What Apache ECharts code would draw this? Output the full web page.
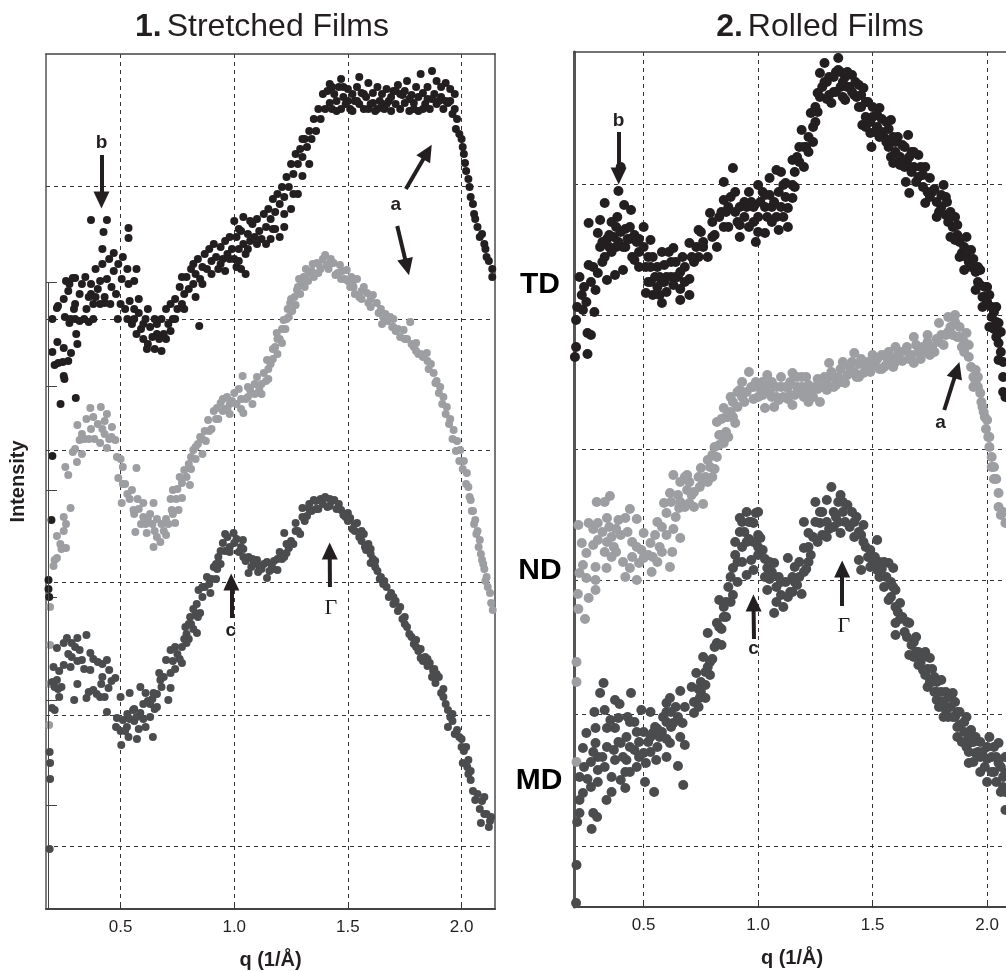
<!DOCTYPE html>
<html><head><meta charset="utf-8"><style>html,body{margin:0;padding:0;background:#fff}#c{width:1006px;height:971px}</style>
<script src="https://cdn.jsdelivr.net/npm/echarts@6/dist/echarts.min.js"></script></head><body><div id="c"></div>
<script>
const xTicks=[0.5,1.0,1.5,2.0];
const gridLevelsA=[63,194,327,459,590,723];
const gridLevelsB=[61,193,327,458,592,723];
const innerTicksA=[104,209,312,419,523,627];
const stretchedTD=[[.183,329],[.183,320],[.186,312],[.196,389],[.2,453],[.236,505],[.303,511],[.25,533],[.253,530],[.21,544],[.226,546],[.246,547],[.27,548],[.2,557],[.222,567],[.25,561],[.282,556],[.31,565],[.305,575],[.2,590],[.225,603],[.255,592],[.275,586],[.3,590],[.295,600],[.32,588],[.34,590],[.36,587],[.38,590],[.22,601],[.25,610],[.27,618],[.28,590],[.3,605],[.32,615],[.35,600],[.37,615],[.39,612],[.41,605],[.43,606],[.455,605],[.488,590],[.26,628],[.275,625],[.29,631],[.3,631],[.33,625],[.345,632],[.37,689],[.44,689],[.425,677],[.535,681],[.535,671],[.36,612],[.37,625],[.38,605],[.39,640],[.4,620],[.41,628],[.42,645],[.43,612],[.44,630],[.45,650],[.46,622],[.47,638],[.48,615],[.49,645],[.5,605],[.505,630],[.42,660],[.47,656],[.51,652],[.53,640],[.535,625],[.57,640],[.56,628],[.52,600],[.53,590],[.54,608],[.55,585],[.56,600],[.57,575],[.58,596],[.59,580],[.6,570],[.61,590],[.62,565],[.63,582],[.64,572],[.65,560],[.66,585],[.67,570],[.68,590],[.69,575],[.7,600],[.71,585],[.72,605],[.73,590],[.74,610],[.75,600],[.76,622],[.77,605],[.78,615],[.79,632],[.8,620],[.81,640],[.82,625],[.83,635],[.84,650],[.85,630],[.86,642],[.87,655],[.88,640],[.89,660],[.9,648],[.91,665],[.92,652],[.93,640],[.94,662],[.95,650],[.96,668],[.97,655],[.98,672],[.99,660],[1.0,650],[1.01,672],[1.02,660],[1.03,678],[1.04,665],[1.05,655],[1.06,675],[1.07,668],[1.08,685],[1.09,672],[1.1,690],[1.11,678],[1.12,670],[1.13,695],[1.14,682],[1.15,700],[1.16,690],[1.17,710],[1.18,697],[1.19,715],[1.2,705],[1.21,722],[1.22,712],[1.23,732],[1.24,722],[1.25,745],[1.26,735],[1.27,755],[1.28,745],[1.29,760],[1.3,752],[1.31,770],[1.32,762],[1.33,778],[1.34,770],[1.35,790],[1.36,778],[1.37,800],[1.38,790],[1.39,815],[1.4,800],[1.41,818],[1.42,806],[.72,578],[.77,632],[.83,612],[.846,583],[.96,638],[1.01,642],[1.03,640],[1.05,635],[1.0,688],[1.04,692],[1.07,688],[1.02,680],[1.16,670],[1.17,680],[1.2,672],[1.22,682],[1.25,700],[1.28,715],[1.3,733],[1.33,745],[1.42,825],[1.43,800],[1.44,815],[1.45,808],[1.46,822],[1.47,800],[1.47,830],[1.48,812],[1.49,805],[1.5,820],[1.51,800],[1.52,815],[1.53,808],[1.54,822],[1.55,805],[1.55,832],[1.56,816],[1.57,800],[1.58,812],[1.59,826],[1.6,805],[1.61,816],[1.62,798],[1.63,822],[1.64,808],[1.65,815],[1.66,800],[1.67,820],[1.68,808],[1.69,798],[1.7,818],[1.71,805],[1.72,824],[1.73,800],[1.74,814],[1.75,806],[1.76,828],[1.77,798],[1.78,814],[1.79,806],[1.8,822],[1.81,798],[1.82,835],[1.83,816],[1.84,805],[1.85,822],[1.86,800],[1.87,838],[1.88,815],[1.89,828],[1.9,808],[1.91,822],[1.92,800],[1.93,826],[1.94,806],[1.95,808],[1.96,795],[1.97,815],[1.98,790],[1.975,780],[1.99,775],[2.0,770],[2.005,762],[2.01,755],[2.015,746],[2.02,738],[2.03,730],[2.035,722],[2.04,712],[2.05,705],[2.055,695],[2.06,690],[2.07,682],[2.08,672],[2.09,675],[2.1,665],[2.105,660],[2.11,652],[2.12,648],[2.135,640],[2.135,632]];
const stretchedTDFill=[[1.43,822],[1.45,798],[1.48,822],[1.5,808],[1.52,798],[1.54,808],[1.57,815],[1.59,800],[1.61,806],[1.63,800],[1.65,805],[1.67,805],[1.69,812],[1.71,818],[1.73,815],[1.75,818],[1.77,810],[1.79,800],[1.81,812],[1.83,800],[1.85,810],[1.87,810],[1.89,805],[1.91,812],[1.93,808],[1.95,820],[1.97,800],[.616,560],[.68,558],[.65,590],[.6,585],[.56,590],[.58,610],[.62,600],[.66,575],[.7,570],[.74,590],[.78,600],[.82,645],[.86,625],[.9,635],[.94,645],[.98,650],[1.02,648],[1.06,660],[1.1,665],[1.14,665],[1.18,680],[1.22,695],[1.26,715],[1.3,770]];
const stretchedND=[[.186,184],[.188,225],[.19,264],[.19,302],[.21,349],[.22,351],[.205,343],[.22,373],[.235,365],[.25,392],[.26,361],[.28,401],[.26,385],[.25,378],[.24,360],[.27,434],[.257,442],[.308,447],[.29,457],[.31,484],[.32,469],[.34,470],[.3,460],[.33,455],[.35,490],[.367,501],[.413,502],[.38,492],[.44,495],[.462,482],[.477,469],[.36,470],[.385,470],[.41,466],[.44,461],[.42,480],[.4,485],[.45,470],[.37,480],[.43,488],[.33,475],[.43,475],[.46,472],[.484,452],[.51,442],[.57,441],[.49,431],[.55,419],[.505,406],[.557,399],[.6,406],[.645,406],[.565,377],[.615,376],[.645,362],[.675,367],[.7,374],[.74,386],[.725,399],[.755,399],[.77,411],[.805,424],[.73,419],[.77,426],[.52,425],[.54,410],[.575,410],[.6,392],[.62,390],[.64,385],[.66,390],[.68,385],[.7,390],[.72,410],[.75,420],[.5,450],[.51,425],[.53,415],[.56,395],[.58,400],[.59,385],[.61,385],[.63,395],[.65,378],[.66,372],[.69,378],[.71,385],[.73,395],[.745,410],[.76,432],[.78,439],[.79,432],[.8,445],[.81,452],[.82,459],[.83,450],[.84,465],[.85,472],[.86,455],[.87,478],[.875,468],[.885,489],[.9,480],[.91,498],[.924,501],[.93,490],[.94,506],[.95,510],[.96,500],[.968,512],[.97,500],[.98,495],[.99,508],[1.0,516],[1.01,505],[1.02,520],[1.03,510],[1.04,496],[1.037,533],[1.05,510],[1.06,522],[1.07,519],[1.08,505],[1.09,525],[1.1,532],[1.11,520],[1.12,515],[1.13,536],[1.14,528],[1.144,549],[1.15,530],[1.16,545],[1.17,550],[1.18,562],[1.187,576],[1.19,555],[1.2,570],[1.21,566],[1.217,589],[1.225,580],[1.235,600],[1.24,592],[1.246,606],[1.255,598],[1.265,612],[1.27,604],[1.276,619],[1.285,630],[1.29,615],[1.295,625],[1.305,632],[1.31,622],[1.315,640],[1.325,628],[1.33,636],[1.345,645],[1.35,632],[1.364,646],[1.37,636],[1.38,640],[1.39,650],[1.4,654],[1.405,644],[1.415,640],[1.425,650],[1.437,646],[1.445,634],[1.455,636],[1.465,644],[1.475,638],[1.485,630],[1.495,639],[1.5,628],[1.51,622],[1.515,632],[1.525,622],[1.53,615],[1.54,630],[1.55,612],[1.56,618],[1.57,622],[1.584,616],[1.59,606],[1.6,610],[1.61,614],[1.627,606],[1.635,596],[1.645,600],[1.655,592],[1.665,595],[1.675,588],[1.686,592],[1.695,582],[1.7,590],[1.71,578],[1.72,580],[1.73,572],[1.745,579],[1.76,570],[1.774,587],[1.78,565],[1.79,562],[1.8,566],[1.81,555],[1.82,555],[1.83,552],[1.847,556],[1.855,540],[1.865,545],[1.877,536],[1.885,526],[1.89,528],[1.9,516],[1.906,522],[1.915,505],[1.92,512],[1.93,495],[1.935,502],[1.945,485],[1.95,490],[1.96,470],[1.965,479],[1.975,458],[1.98,468],[1.99,448],[1.994,459],[2.005,440],[2.01,448],[2.02,425],[2.023,436],[2.03,422],[2.035,412],[2.04,409],[2.045,398],[2.05,398],[2.055,385],[2.06,389],[2.065,375],[2.07,378],[2.075,362],[2.08,369],[2.085,355],[2.09,349],[2.095,345],[2.1,340],[2.105,328],[2.11,332],[2.115,322],[2.125,316],[2.13,306],[2.137,299]];
const stretchedNDFill=[[.81,440],[.83,462],[.86,470],[.89,478],[.92,490],[.95,498],[.98,505],[1.03,500],[1.06,512],[1.09,515],[1.12,525],[1.15,540],[1.17,560],[1.19,570],[1.21,580],[1.23,590],[1.25,610],[1.28,622],[1.31,630],[1.34,638],[1.37,645],[1.42,645],[1.47,630],[1.52,625],[1.56,610],[1.6,602],[1.65,585],[1.7,582],[1.75,570],[1.8,558],[1.85,548]];
const stretchedMD=[[.188,157],[.19,146],[.19,130],[.188,60],[.198,201],[.21,199],[.23,212],[.296,209],[.31,225],[.2,227],[.22,229],[.24,222],[.205,242],[.25,244],[.22,261],[.264,271],[.31,271],[.35,274],[.25,266],[.285,266],[.32,259],[.285,252],[.28,242],[.33,249],[.367,256],[.367,239],[.4,247],[.44,249],[.45,239],[.477,231],[.447,221],[.36,217],[.38,219],[.41,212],[.35,211],[.44,197],[.395,215],[.27,255],[.3,262],[.34,240],[.31,248],[.38,250],[.42,245],[.42,232],[.46,228],[.21,222],[.225,220],[.23,238],[.415,225],[.43,212],[.5,212],[.54,216],[.587,222],[.484,191],[.48,182],[.51,189],[.528,182],[.503,164],[.535,172],[.572,170],[.642,172],[.555,199],[.587,196],[.63,192],[.61,216],[.645,216],[.66,202],[.71,209],[.675,229],[.67,236],[.72,221],[.5,178],[.52,178],[.54,190],[.56,188],[.57,192],[.6,190],[.6,205],[.62,208],[.63,205],[.65,200],[.68,222],[.69,232],[.7,249],[.72,259],[.74,262],[.77,246],[.79,266],[.72,236],[.74,240],[.76,250],[.73,248],[.75,255],[.77,262],[.785,282],[.79,275],[.8,270],[.806,292],[.836,276],[.82,280],[.81,285],[.843,319],[.835,305],[.85,296],[.84,292],[.86,312],[.87,322],[.88,332],[.895,316],[.9,330],[.91,342],[.925,340],[.92,330],[.93,352],[.94,345],[.95,366],[.96,358],[.97,372],[.98,362],[.997,376],[1.01,370],[1.038,369],[.98,357],[1.02,357],[1.03,362],[1.04,352],[1.05,348],[1.063,352],[1.063,336],[1.075,342],[1.085,345],[1.1,349],[1.105,337],[1.12,340],[1.13,345],[1.144,331],[1.144,347],[1.155,338],[1.165,343],[1.175,348],[1.19,339],[1.2,357],[1.21,350],[1.22,352],[1.23,356],[1.24,361],[1.25,368],[1.22,376],[1.26,365],[1.27,386],[1.28,378],[1.29,375],[1.3,401],[1.31,388],[1.32,393],[1.33,400],[1.34,398],[1.35,409],[1.36,400],[1.37,400],[1.38,410],[1.4,412],[1.41,402],[1.42,403],[1.43,408],[1.44,409],[1.45,400],[1.47,399],[1.48,394],[1.49,392],[1.5,396],[1.51,391],[1.52,380],[1.54,386],[1.53,378],[1.55,372],[1.56,378],[1.57,375],[1.575,362],[1.58,359],[1.59,365],[1.6,355],[1.6,346],[1.61,350],[1.62,342],[1.63,338],[1.64,330],[1.645,332],[1.655,325],[1.67,322],[1.68,312],[1.69,316],[1.7,305],[1.71,308],[1.72,298],[1.73,302],[1.74,290],[1.75,285],[1.76,282],[1.77,275],[1.78,272],[1.79,265],[1.8,269],[1.81,258],[1.82,260],[1.82,251],[1.83,248],[1.84,252],[1.85,250],[1.86,246],[1.87,232],[1.875,238],[1.89,235],[1.9,232],[1.885,226],[1.91,216],[1.92,212],[1.93,205],[1.94,199],[1.95,192],[1.96,188],[1.94,182],[1.97,175],[1.98,179],[1.99,172],[2.0,170],[2.01,158],[2.02,162],[2.005,146],[2.03,149],[2.025,142],[2.03,135],[2.04,129],[2.05,118],[2.06,109],[2.07,115],[2.09,108],[2.1,112],[2.08,100],[2.085,86],[2.1,95],[2.12,82],[2.13,92],[2.11,95],[2.125,88]];
const stretchedMDFill=[[.78,270],[.8,285],[.82,300],[.83,295],[.86,322],[.89,325],[.92,345],[.94,358],[.96,375],[1.0,366],[1.04,360],[1.08,350],[1.11,342],[1.17,340],[1.19,350],[1.23,365],[1.27,378],[1.3,392],[1.33,405],[1.36,408],[1.39,405],[1.42,410],[1.46,405],[1.5,388],[1.53,385],[1.56,368],[1.6,360],[1.62,348],[1.66,328],[1.7,312],[1.75,292],[1.8,262],[1.85,243],[1.88,240],[1.92,220],[1.96,195],[2.0,162],[2.04,138],[.58,180],[.61,182],[.53,195],[.56,200],[.64,210],[.66,215]];
const rolledTD=[[.2,550],[.205,560],[.205,587],[.235,597],[.285,595],[.255,574],[.27,572],[.255,553],[.22,630],[.25,605],[.29,617],[.26,642],[.3,634],[.34,627],[.375,632],[.41,637],[.46,647],[.3,674],[.31,687],[.26,684],[.33,704],[.39,716],[.4,740],[.415,702],[.445,697],[.385,690],[.31,660],[.34,668],[.37,670],[.4,675],[.43,668],[.46,672],[.33,650],[.36,655],[.39,665],[.42,660],[.45,650],[.21,600],[.23,612],[.24,620],[.27,625],[.28,640],[.32,645],[.35,672],[.38,680],[.42,678],[.44,680],[.36,685],[.5,680],[.53,667],[.51,640],[.51,614],[.58,604],[.66,607],[.7,612],[.63,659],[.48,655],[.5,660],[.52,650],[.54,650],[.56,640],[.58,655],[.6,630],[.62,645],[.65,630],[.68,640],[.52,625],[.56,620],[.6,615],[.63,622],[.66,618],[.7,628],[.55,630],[.59,642],[.61,655],[.64,645],[.67,650],[.57,612],[.54,612],[.48,640],[.72,645],[.7,664],[.73,660],[.75,675],[.74,650],[.76,660],[.78,650],[.74,677],[.79,694],[.85,707],[.85,725],[.89,739],[.92,682],[.99,665],[1.03,674],[1.09,677],[.76,665],[.8,670],[.81,672],[.83,690],[.85,680],[.87,680],[.86,695],[.9,695],[.92,700],[.94,690],[.97,705],[1.0,722],[1.05,729],[1.08,737],[1.12,724],[1.15,722],[1.15,709],[1.13,699],[.96,715],[1,690],[1.03,700],[1.06,685],[1.1,700],[1.02,715],[.88,710],[.9,715],[.98,685],[1.01,705],[1.04,690],[1.07,705],[1.09,715],[1.12,710],[.94,705],[.92,670],[.96,680],[1.05,712],[1.1,735],[1.16,735],[1.17,750],[1.15,747],[1.18,760],[1.19,777],[1.2,740],[1.21,760],[1.22,770],[1.23,794],[1.24,780],[1.25,785],[1.26,795],[1.26,814],[1.27,834],[1.28,820],[1.29,844],[1.29,825],[1.3,808],[1.31,830],[1.32,804],[1.33,815],[1.34,835],[1.35,849],[1.35,837],[1.36,820],[1.37,810],[1.38,830],[1.38,807],[1.39,820],[1.4,820],[1.41,832],[1.42,812],[1.43,810],[1.44,822],[1.45,800],[1.46,819],[1.47,790],[1.48,805],[1.455,782],[1.495,760],[1.49,774],[1.5,790],[1.52,780],[1.53,799],[1.54,775],[1.55,770],[1.56,785],[1.57,760],[1.58,787],[1.59,744],[1.6,755],[1.61,770],[1.62,750],[1.64,760],[1.65,745],[1.655,772],[1.67,755],[1.68,740],[1.70,752],[1.7,730],[1.72,720],[1.73,740],[1.645,725],[1.66,714],[1.75,710],[1.75,729],[1.76,715],[1.78,705],[1.8,700],[1.81,722],[1.82,710],[1.825,705],[1.73,704],[1.78,690],[1.83,685],[1.85,680],[1.86,690],[1.87,672],[1.88,665],[1.91,670],[1.86,667],[1.89,654],[1.92,645],[1.93,657],[1.9,637],[1.95,635],[1.97,637],[1.96,625],[2.0,620],[1.95,617],[1.98,610],[1.98,600],[1.99,610],[2.02,590],[2.04,600],[2.03,578],[2.05,584],[2.01,580],[2.04,570],[2.05,564],[2.05,547],[2.07,530],[2.08,510]];
const rolledTDFill=[[1.41,815],[1.425,825],[1.44,800],[1.45,812],[1.47,805],[1.47,780],[1.49,785],[1.5,800],[1.51,775],[1.52,792],[1.53,770],[1.54,788],[1.56,765],[1.57,778],[1.58,750],[1.59,770],[1.6,765],[1.62,742],[1.63,762],[1.64,740],[1.66,750],[1.67,735],[1.68,755],[1.69,725],[1.71,740],[1.72,732],[1.74,715],[1.77,718],[1.79,695],[1.8,712],[1.82,692],[1.84,695],[1.84,670],[1.87,682],[1.88,650],[1.9,660],[1.91,650],[1.93,640],[1.94,648],[1.96,640],[1.97,622],[1.99,620],[2.0,605],[2.01,612],[2.02,600],[2.03,595],[2.04,585],[2.06,575],[2.06,555],[2.07,545],[2.07,515],[1.16,720],[1.18,745],[1.2,760],[1.22,755],[1.24,765],[1.25,800],[1.27,810],[1.3,825],[1.31,812],[1.33,830],[1.34,815],[1.36,835],[1.37,825],[1.39,835],[.8,685],[.82,660],[.84,695],[.87,700],[.91,685],[.95,700],[.98,700],[1.0,675],[1.03,712],[1.06,700],[1.08,690],[1.11,690],[1.13,680],[1.11,722],[.48,668],[.53,640],[.57,630],[.59,625],[.62,630],[.64,630],[.66,635],[.68,625],[.71,650],[.53,625],[.58,625],[.35,660],[.38,660],[.41,660],[.44,668],[.47,665],[.32,665]];
const rolledND=[[.207,225],[.207,245],[.207,145],[.244,288],[.215,298],[.213,313],[.26,309],[.29,317],[.29,327],[.25,329],[.22,334],[.235,342],[.29,340],[.338,339],[.25,354],[.23,364],[.215,382],[.26,384],[.295,405],[.353,411],[.33,405],[.44,398],[.47,388],[.3,384],[.34,389],[.39,387],[.42,389],[.3,367],[.36,370],[.4,372],[.36,350],[.37,360],[.42,330],[.47,327],[.44,339],[.48,344],[.535,335],[.615,340],[.625,355],[.58,355],[.5,374],[.53,364],[.45,365],[.49,357],[.5,349],[.66,369],[.56,385],[.58,380],[.6,394],[.589,404],[.615,414],[.64,390],[.655,399],[.7,404],[.76,403],[.69,417],[.745,420],[.57,360],[.54,350],[.45,350],[.41,345],[.33,355],[.28,362],[.62,405],[.65,412],[.7,425],[.72,415],[.68,430],[.66,425],[.63,432],[.69,432],[.32,375],[.35,380],[.38,378],[.28,378],[.34,365],[.38,355],[.43,375],[.47,360],[.52,352],[.55,372],[.56,345],[.6,372],[.63,378],[.66,405],[.68,400],[.72,400],[.74,430],[.71,412],[.75,439],[.77,430],[.81,438],[.78,447],[.79,440],[.8,452],[.81,460],[.83,462],[.85,464],[.86,475],[.82,485],[.85,499],[.84,472],[.87,490],[.88,510],[.88,495],[.89,505],[.9,484],[.91,500],[.92,517],[.93,525],[.94,505],[.95,515],[.96,535],[.97,520],[.98,508],[.99,525],[1.0,510],[1.01,518],[1.03,499],[1.04,532],[1.02,525],[1.05,515],[1.06,525],[1.07,500],[1.08,520],[1.09,507],[1.1,520],[1.12,520],[1.13,508],[1.14,525],[1.15,534],[1.15,502],[1.17,520],[1.18,515],[1.19,530],[1.2,510],[1.21,530],[1.22,505],[1.23,515],[1.25,520],[1.27,505],[1.26,528],[1.29,530],[1.3,517],[1.31,544],[1.33,530],[1.34,522],[1.36,538],[1.38,524],[1.4,540],[1.42,554],[1.43,530],[1.44,543],[1.46,534],[1.48,545],[1.5,540],[1.52,548],[1.54,538],[1.55,540],[1.56,550],[1.58,548],[1.6,560],[1.6,545],[1.62,555],[1.64,556],[1.66,548],[1.68,544],[1.68,570],[1.7,555],[1.72,560],[1.74,565],[1.75,552],[1.76,560],[1.78,568],[1.79,584],[1.8,572],[1.82,572],[1.83,590],[1.84,580],[1.86,585],[1.87,570],[1.88,580],[1.89,560],[1.9,565],[1.91,574],[1.92,550],[1.93,540],[1.94,520],[1.95,537],[1.96,520],[1.97,514],[1.98,500],[1.99,490],[2.0,487],[2.01,470],[2.02,450],[2.01,460],[2.03,440],[2.05,414],[2.04,428],[2.07,395],[2.08,384]];
const rolledNDFill=[[.98,520],[1.02,512],[1.04,518],[1.06,510],[1.08,510],[1.1,530],[1.11,510],[1.13,520],[1.14,512],[1.16,512],[1.17,530],[1.19,520],[1.21,515],[1.22,522],[1.24,510],[1.26,518],[1.28,520],[1.3,525],[1.32,535],[1.33,520],[1.35,530],[1.36,525],[1.37,545],[1.39,532],[1.41,545],[1.42,535],[1.44,530],[1.45,548],[1.47,540],[1.49,535],[1.5,552],[1.51,543],[1.53,538],[1.54,552],[1.56,542],[1.57,555],[1.59,540],[1.61,552],[1.63,546],[1.65,560],[1.67,552],[1.69,562],[1.71,548],[1.73,555],[1.74,572],[1.77,555],[1.79,565],[1.81,562],[1.83,575],[1.85,572],[1.86,592],[1.88,570],[1.9,555],[1.92,562],[1.94,530],[1.95,525],[1.96,530],[1.975,505],[1.985,495],[1.995,478],[2.005,470],[2.02,440],[2.03,428],[2.05,400],[2.06,392],[.76,425],[.78,425],[.8,430],[.82,450],[.83,472],[.84,488],[.86,490],[.87,470],[.89,490],[.91,515],[.93,510]];
const rolledMD=[[.207,42],[.205,4],[.22,94],[.21,85],[.273,78],[.28,94],[.297,90],[.22,107],[.235,114],[.338,107],[.36,115],[.22,130],[.27,120],[.42,119],[.506,125],[.546,115],[.673,122],[.65,141],[.24,140],[.255,128],[.3,137],[.36,130],[.4,127],[.235,159],[.25,174],[.29,164],[.3,150],[.375,147],[.425,147],[.33,140],[.37,157],[.4,164],[.29,179],[.34,179],[.375,179],[.39,189],[.355,187],[.44,185],[.46,185],[.425,170],[.46,157],[.5,175],[.5,154],[.51,144],[.555,147],[.6,150],[.57,170],[.54,174],[.615,164],[.66,170],[.68,162],[.285,195],[.33,197],[.375,207],[.395,203],[.325,224],[.31,214],[.445,214],[.49,197],[.53,195],[.585,190],[.6,204],[.615,209],[.66,216],[.64,200],[.68,200],[.72,194],[.63,184],[.67,184],[.745,209],[.77,209],[.71,220],[.73,234],[.79,232],[.27,145],[.32,150],[.39,165],[.41,150],[.44,160],[.48,150],[.52,165],[.53,155],[.56,160],[.58,175],[.6,168],[.62,180],[.6,185],[.56,178],[.76,250],[.78,240],[.75,225],[.77,222],[.74,218],[.8,248],[.82,264],[.84,262],[.78,274],[.82,284],[.84,278],[.86,290],[.83,307],[.85,300],[.89,312],[.87,320],[.88,330],[.89,339],[.9,352],[.9,365],[.91,345],[.92,375],[.92,389],[.93,360],[.94,375],[.95,395],[.96,368],[.97,385],[.99,394],[.98,384],[1.0,372],[1.01,369],[.97,347],[.95,332],[.98,337],[1.0,352],[1.02,357],[1.03,348],[1.04,339],[1.05,328],[1.07,344],[1.06,335],[1.04,317],[1.07,294],[1.08,320],[1.1,312],[1.09,330],[1.11,300],[1.12,325],[1.14,315],[1.15,330],[1.16,340],[1.17,322],[1.19,313],[1.13,349],[1.18,345],[1.2,359],[1.21,338],[1.22,345],[1.23,352],[1.24,370],[1.2,385],[1.25,405],[1.22,374],[1.26,365],[1.27,384],[1.28,372],[1.3,407],[1.3,385],[1.31,378],[1.32,420],[1.33,395],[1.34,390],[1.35,405],[1.36,412],[1.36,374],[1.37,395],[1.39,402],[1.4,380],[1.42,370],[1.43,390],[1.44,347],[1.45,337],[1.45,372],[1.46,382],[1.47,360],[1.49,357],[1.5,345],[1.52,367],[1.53,345],[1.52,337],[1.55,320],[1.56,330],[1.57,344],[1.59,339],[1.58,310],[1.6,317],[1.57,307],[1.6,300],[1.62,304],[1.6,284],[1.63,290],[1.65,285],[1.66,284],[1.6,272],[1.68,265],[1.69,270],[1.66,252],[1.71,245],[1.72,237],[1.75,249],[1.73,255],[1.76,225],[1.77,230],[1.74,220],[1.78,215],[1.8,227],[1.8,205],[1.83,210],[1.85,214],[1.78,207],[1.82,197],[1.84,200],[1.86,190],[1.87,195],[1.88,182],[1.91,190],[1.81,190],[1.87,180],[1.9,175],[1.93,177],[1.91,160],[1.93,165],[1.95,170],[1.97,165],[2.01,170],[2.05,164],[1.95,154],[1.98,155],[2.0,148],[2.02,150],[1.92,144],[1.97,135],[2.0,125],[2.03,135],[2.05,144],[2.04,125],[2.06,115],[2.07,130],[2.08,97],[2.08,134]];
const rolledMDFill=[[1.46,365],[1.48,350],[1.49,340],[1.51,350],[1.53,330],[1.54,338],[1.55,345],[1.58,325],[1.59,320],[1.61,295],[1.62,288],[1.64,275],[1.65,270],[1.67,262],[1.68,250],[1.69,255],[1.7,255],[1.7,242],[1.72,250],[1.73,232],[1.74,238],[1.75,225],[1.76,238],[1.77,215],[1.78,225],[1.79,200],[1.8,215],[1.81,205],[1.82,215],[1.83,190],[1.84,210],[1.85,190],[1.86,205],[1.87,170],[1.88,195],[1.89,165],[1.9,185],[1.92,170],[1.92,155],[1.94,165],[1.94,145],[1.96,155],[1.97,150],[1.99,140],[2.0,160],[2.02,135],[2.03,160],[2.04,150],[2.06,140],[2.07,120],[2.08,115],[2.08,150],[.72,205],[.74,200],[.75,215],[.77,235],[.79,245],[.81,260],[.83,280],[.85,290],[.86,305],[.88,305],[.91,325],[.93,345],[.93,385],[.95,365],[.96,385],[.98,365],[1.0,395],[1.0,360],[1.03,330],[1.05,345],[1.08,305],[1.1,325],[1.13,310],[1.15,315],[1.16,325],[1.18,330],[1.2,335],[1.22,360],[1.25,385],[1.27,395],[1.28,395],[1.3,370],[1.33,380],[1.35,385],[1.37,405],[1.38,385],[1.41,395],[1.42,385],[1.44,375],[.3,125],[.34,160],[.42,135],[.44,135],[.47,140],[.48,165],[.53,170],[.55,180],[.6,195],[.62,195],[.65,190],[.28,155],[.43,190],[.47,175]];
const arrowsA=[[.416,754,.416,709],[1.755,720,1.85,757],[1.717,683,1.76,642],[.989,291,.987,327],[1.421,322,1.42,358]];
const labelsA=[[.416,766,'b'],[1.711,704,'a'],[.985,278,'c']];
const gammaA=[[1.425,301,'Γ']];
const arrowsB=[[.391,775,.391,731],[1.813,497,1.868,537],[.982,268,.98,304],[1.367,301,1.367,338]];
const labelsB=[[.391,786,'b'],[1.797,484,'a'],[.98,258,'c']];
const gammaB=[[1.375,281,'Γ']];

const F='"Liberation Sans",Arial,sans-serif',DARK='#231f20',GRID='#333',HIDE='rgba(0,0,0,0)';
function xA(idx,min,max){return{type:'value',gridIndex:idx,min,max,name:'q (1/Å)',nameLocation:'middle',nameGap:41,
 nameTextStyle:{fontFamily:F,fontWeight:'bold',fontSize:20,color:DARK},
 axisLine:{onZero:false,lineStyle:{color:'#444',width:2}},
 axisTick:{inside:true,length:6,customValues:xTicks,lineStyle:{color:'#333'}},
 axisLabel:{customValues:xTicks,formatter:v=>v.toFixed(1),fontFamily:F,fontSize:17,color:DARK,margin:10},
 splitLine:{show:true,lineStyle:{color:GRID,type:[4,4],width:1}}}}
function xTop(idx,min,max){return{type:'value',gridIndex:idx,position:'top',min,max,axisLine:{show:true,onZero:false,lineStyle:{color:'#444',width:1.5}},axisTick:{show:false},axisLabel:{show:false},splitLine:{show:false}}}
function yL(idx,ticks,name,w){return{type:'value',gridIndex:idx,min:0,max:855,name,nameLocation:'middle',nameGap:18,nameTextStyle:{fontFamily:F,fontWeight:'bold',fontSize:20,color:DARK},
 axisLine:{show:true,onZero:false,lineStyle:{color:'#555',width:w}},axisTick:{show:ticks.length>0,inside:true,length:11,customValues:ticks.length?ticks:[0],lineStyle:{color:'#444'}},axisLabel:{show:false},splitLine:{show:false}}}
function yR(idx,levels){return{type:'value',gridIndex:idx,position:'right',min:0,max:855,axisLine:{show:true,onZero:false,lineStyle:{color:'#777',width:2}},axisTick:{show:false,customValues:levels},axisLabel:{show:false},splitLine:{show:true,lineStyle:{color:GRID,type:[4,4],width:1}}}}
function sc(idx,data,color,size){return{type:'scatter',xAxisIndex:idx*2,yAxisIndex:idx*2,data,symbolSize:size,itemStyle:{color,opacity:1},silent:true,animation:false,clip:true,large:false,progressive:0}}
function notes(idx,arrows,labels,extra){return{type:'scatter',xAxisIndex:idx*2,yAxisIndex:idx*2,z:5,symbolSize:1,silent:true,data:labels,itemStyle:{color:HIDE,opacity:1},
 label:{show:true,position:'inside',formatter:p=>p.data[2],fontFamily:F,fontWeight:'bold',fontSize:19,color:DARK},
 markLine:{silent:true,animation:false,symbol:['none','triangle'],symbolSize:[16,17],label:{show:false},lineStyle:{color:DARK,width:4,type:'solid',opacity:1},itemStyle:{color:DARK},emphasis:{disabled:true},
  data:arrows.map(a=>[{coord:[a[0],a[1]]},{coord:[a[2],a[3]]}]).concat(extra||[])}}}
const gammaSeries=(idx,d)=>({type:'scatter',xAxisIndex:idx*2,yAxisIndex:idx*2,z:6,symbolSize:1,silent:true,data:d,itemStyle:{color:HIDE,opacity:1},label:{show:true,position:'inside',formatter:p=>p.data[2],fontFamily:'"Liberation Serif",serif',fontSize:22,color:DARK}});
const titleRich={b:{fontFamily:F,fontWeight:'bold',fontSize:32,color:DARK},n:{fontFamily:F,fontWeight:'normal',fontSize:32,color:DARK}};
const chart=echarts.init(document.getElementById('c'),null,{renderer:'canvas'});
chart.setOption({animation:false,backgroundColor:'#fff',
 grid:[{left:46,top:54,width:449,height:855,outerBoundsMode:'none'},{left:574,top:52,width:436,height:855,outerBoundsMode:'none'}],
 xAxis:[xA(0,.172,2.147),xTop(0,.172,2.147),xA(1,.196,2.1),xTop(1,.196,2.1)],
 yAxis:[yL(0,innerTicksA,'Intensity',1.5),yR(0,gridLevelsA),yL(1,[],'',3),yR(1,gridLevelsB)],
 title:[
  {text:'{b|1.} {n|Stretched Films}',left:257,top:6,textAlign:'center',textStyle:{fontWeight:'normal',rich:titleRich}},
  {text:'{b|2.} {n|Rolled Films}',left:815,top:6,textAlign:'center',textStyle:{fontWeight:'normal',rich:titleRich}},
  {text:'TD',left:535,top:265,textAlign:'center',textStyle:{fontFamily:F,fontWeight:'bold',fontSize:30,color:'#000'}},
  {text:'ND',left:535,top:551,textAlign:'center',textStyle:{fontFamily:F,fontWeight:'bold',fontSize:30,color:'#000'}},
  {text:'MD',left:534,top:761,textAlign:'center',textStyle:{fontFamily:F,fontWeight:'bold',fontSize:30,color:'#000'}}],
 series:[sc(0,stretchedTD.concat(stretchedTDFill),'#231f20',8),sc(0,stretchedND.concat(stretchedNDFill),'#9c9ea1',8),sc(0,stretchedMD.concat(stretchedMDFill),'#4a4c4e',8),
  notes(0,arrowsA,labelsA,[[{coord:[.181,0],lineStyle:{width:1,color:'#444'},symbol:'none'},{coord:[.181,627],symbol:'none'}]]),gammaSeries(0,gammaA),
  sc(1,rolledTD.concat(rolledTDFill),'#231f20',10),sc(1,rolledND.concat(rolledNDFill),'#9c9ea1',10),sc(1,rolledMD.concat(rolledMDFill),'#4a4c4e',10),
  notes(1,arrowsB,labelsB),gammaSeries(1,gammaB)]
});
</script></body></html>
